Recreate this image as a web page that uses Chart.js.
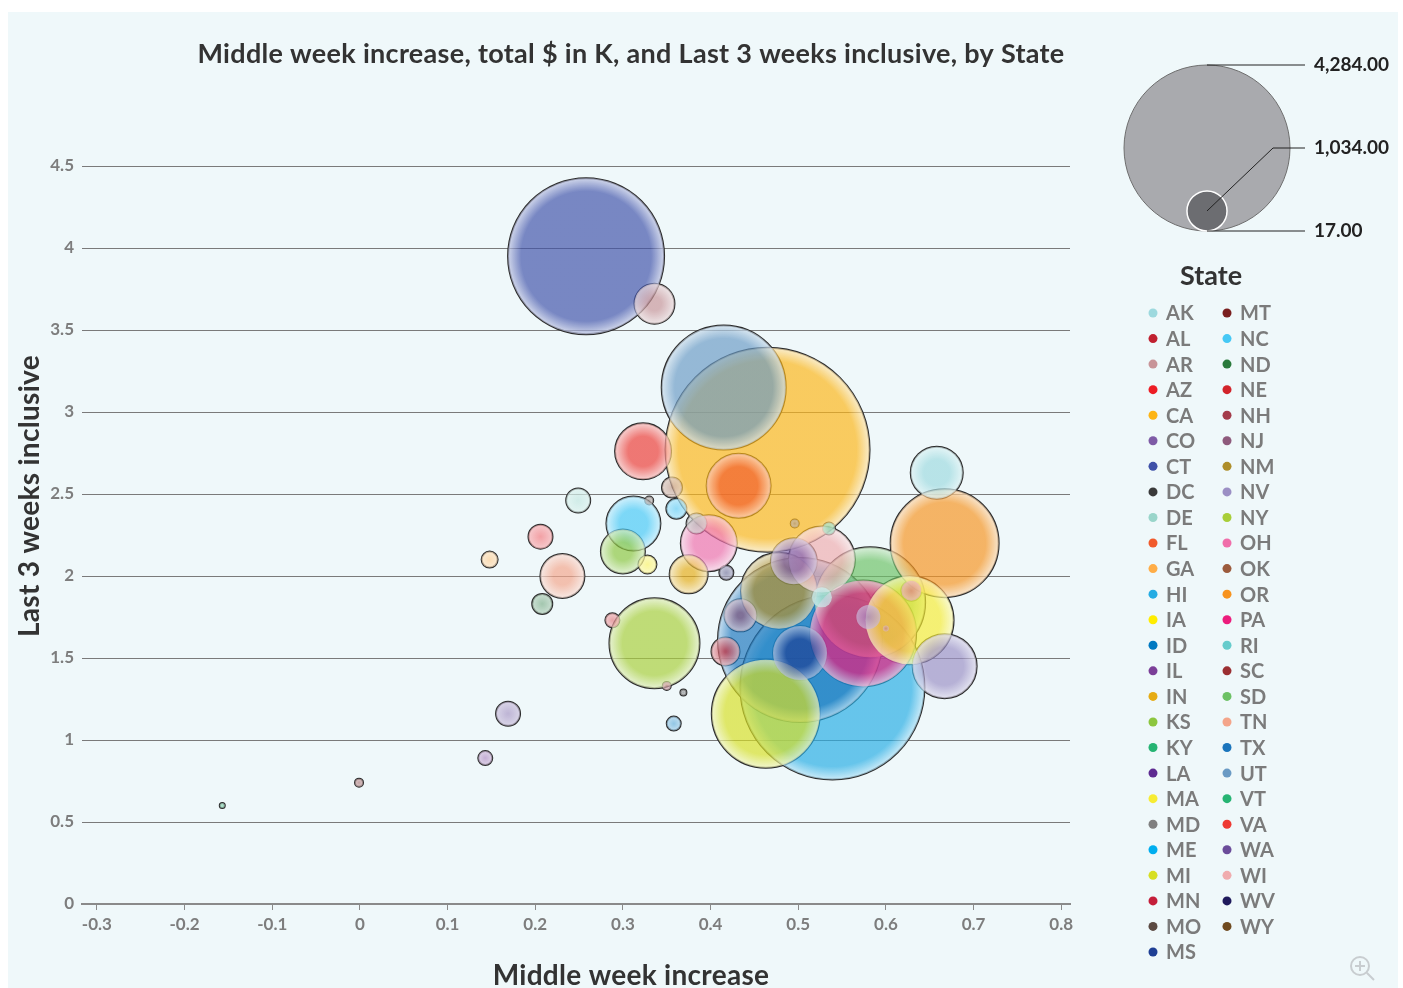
<!DOCTYPE html>
<html>
<head>
<meta charset="utf-8">
<script src="https://cdn.jsdelivr.net/npm/chart.js@4.4.1/dist/chart.umd.min.js"></script>
<style>
  html, body { margin: 0; padding: 0; background: #fff; }
  #wrap { position: relative; width: 1403px; height: 988px; overflow: hidden; }
  #panel { position: absolute; left: 8px; top: 12px; width: 1390px; height: 976px; background: #eff8fa; }
  #chart { position: absolute; left: 0; top: 0; }
</style>
</head>
<body>
<div id="wrap">
  <div id="panel"></div>
  <canvas id="chart" width="1403" height="988"></canvas>
</div>
<script>
// legend states and their colours
const states = ['AK','AL','AR','AZ','CA','CO','CT','DC','DE','FL','GA','HI','IA','ID','IL','IN','KS','KY','LA','MA','MD','ME','MI','MN','MO','MS',
  'MT','NC','ND','NE','NH','NJ','NM','NV','NY','OH','OK','OR','PA','RI','SC','SD','TN','TX','UT','VT','VA','WA','WI','WV','WY'];
const stateColors = ['#9DD9DE','#C0202F','#C89498','#ED1C24','#FDB515','#7E5BA6','#3F51A8','#3A3A3A','#99D5CA','#F15A2B','#FFAD47','#25ACE3','#FFED00','#0079C1','#7B3F98','#E6AC14','#8CC63E','#26B473','#5E2B91','#F7EC33','#808080','#00AEEF','#D7DF23','#C41E3A','#5B4A42','#1E3F94',
  '#7A1F1F','#46C8F5','#2A7A3C','#D2232A','#A33B4A','#8E5A7C','#AE8E2A','#9B8FC4','#A8CE38','#F06EAA','#9C5B3D','#F7931E','#EC1C7C','#66CCCC','#9B2F32','#6CC164','#F4A58A','#1B75BC','#6A9AC4','#26B473','#EE3A33','#6B4C9A','#F0ACAE','#1F1A5C','#6F4A1F'];

// one bubble per state (largest first)
const bubbleStates = ['CA','HI','TX','CT','UT','SD','OR','MI','PA','NY','MA','NM','WI','FL','NV','VA','OH','NC','MS','AK','CO','KS','TN','AR','IN','NJ','AL',
  'DE','AZ','WA','LA','OK','ME','MD','ND','MN','RI','IA','GA','WV','NE','ID','IL','VT','MO','NH','MT','WY','DC','SC','KY'];
const middleWeekIncrease = [0.465,0.539,0.502,0.258,0.415,0.582,0.667,0.463,0.574,0.336,0.627,0.478,0.527,0.432,0.667,0.323,0.398,0.312,0.502,0.658,0.495,0.300,0.231,0.336,0.375,0.434,0.417,
  0.249,0.206,0.169,0.580,0.356,0.361,0.384,0.208,0.629,0.527,0.328,0.148,0.418,0.288,0.358,0.143,0.535,0.330,0.350,-0.001,0.496,0.369,0.600,-0.157];
const last3Weeks = [2.77,1.32,1.61,3.95,3.15,1.84,2.20,1.16,1.65,1.59,1.73,1.91,2.10,2.55,1.45,2.76,2.20,2.32,1.53,2.63,2.09,2.15,2.00,3.66,2.01,1.76,1.54,
  2.46,2.24,1.16,1.75,2.54,2.41,2.32,1.83,1.91,1.87,2.07,2.10,2.02,1.73,1.10,0.89,2.29,2.46,1.33,0.74,2.32,1.29,1.68,0.60];
const totalK = [4284,3864,3444,3276,2604,2310,2268,2268,2226,1890,1848,1596,1386,1344,1344,1176,1176,1134,1134,1092,966,924,924,840,798,672,588,
  504,504,504,504,420,420,420,420,420,420,378,336,294,294,294,294,252,168,168,168,168,126,126,17];

const xTicks = [-0.3,-0.2,-0.1,0,0.1,0.2,0.3,0.4,0.5,0.6,0.7,0.8];
const sizeLegendValues = [4284, 1034, 17];

const MAX_TOTAL = 4284;
const MAX_R = 102;
const FONT = "Lato, 'Open Sans', sans-serif";

function colorOf(st) { return stateColors[states.indexOf(st)]; }
function hexRgb(h) { return [1,3,5].map(i => parseInt(h.slice(i, i + 2), 16)); }
function mixWhite(c, t) { return c.map(v => Math.round(v + (255 - v) * t)); }
function rgba(c, a) { return `rgba(${c[0]},${c[1]},${c[2]},${a})`; }

const bubbles = bubbleStates.map((st, i) => ({
  x: middleWeekIncrease[i],
  y: last3Weeks[i],
  r: Math.max(2.5, MAX_R * totalK[i] / MAX_TOTAL),
  state: st
}));

// radial fill: flat colour with a light rim
function bubbleFill(ctx) {
  if (ctx.type !== 'data' || !ctx.raw) return 'rgba(0,0,0,0)';
  const chart = ctx.chart, d = ctx.raw;
  const c = hexRgb(colorOf(d.state));
  const px = chart.scales.x.getPixelForValue(d.x);
  const py = chart.scales.y.getPixelForValue(d.y);
  if (!isFinite(px) || !isFinite(py)) return rgba(c, 0.68);
  const p = Math.max(0, 1 - 13 / d.r);
  const core = d.r < 14 ? 0.4 : 0;
  const g = chart.ctx.createRadialGradient(px, py, 0, px, py, d.r);
  g.addColorStop(0, rgba(mixWhite(c, core), 0.68));
  g.addColorStop(p, rgba(mixWhite(c, core), 0.68));
  g.addColorStop(1, rgba(mixWhite(c, 0.68), 0.7));
  return g;
}

const decor = {
  id: 'decor',
  afterDraw(chart) {
    const c = chart.ctx;
    c.save();
    // title
    c.fillStyle = '#333';
    c.font = `bold 27px ${FONT}`;
    c.textAlign = 'center';
    c.textBaseline = 'middle';
    c.letterSpacing = '0.3px';
    c.fillText('Middle week increase, total $ in K, and Last 3 weeks inclusive, by State', 631, 54, 874);
    // axis titles
    c.font = `bold 28px ${FONT}`;
    c.fillText('Middle week increase', 631, 976);
    c.save();
    c.translate(30, 496);
    c.rotate(-Math.PI / 2);
    c.fillText('Last 3 weeks inclusive', 0, 0);
    c.restore();
    c.letterSpacing = '0px';

    // size legend
    const k = 83 / sizeLegendValues[0];
    const cx = 1207, bottom = 231;
    const rBig = sizeLegendValues[0] * k, rMid = sizeLegendValues[1] * k;
    c.beginPath();
    c.arc(cx, bottom - rBig, rBig, 0, Math.PI * 2);
    c.fillStyle = '#a9aaae';
    c.fill();
    c.strokeStyle = '#6e6e6e';
    c.lineWidth = 1;
    c.stroke();
    c.beginPath();
    c.arc(cx, bottom - rMid, rMid, 0, Math.PI * 2);
    c.fillStyle = '#6c6d71';
    c.fill();
    c.strokeStyle = '#fff';
    c.lineWidth = 1.5;
    c.stroke();
    c.strokeStyle = '#222';
    c.lineWidth = 1;
    const yTop = bottom - 2 * rBig, yMid = bottom - rBig;
    c.beginPath();
    c.moveTo(cx, yTop); c.lineTo(1305, yTop);
    c.moveTo(cx, bottom - rMid); c.lineTo(1273, yMid); c.lineTo(1305, yMid);
    c.moveTo(cx, bottom); c.lineTo(1305, bottom);
    c.stroke();
    c.fillStyle = '#222';
    c.font = `bold 19px ${FONT}`;
    c.textAlign = 'left';
    const fmt = v => v.toLocaleString('en-US', { minimumFractionDigits: 2, maximumFractionDigits: 2 });
    c.fillText(fmt(sizeLegendValues[0]), 1314, yTop);
    c.fillText(fmt(sizeLegendValues[1]), 1314, yMid);
    c.fillText(fmt(sizeLegendValues[2]), 1314, bottom);

    // state legend
    c.fillStyle = '#333';
    c.font = `bold 27px ${FONT}`;
    c.textAlign = 'center';
    c.fillText('State', 1211, 276);
    c.font = `bold 20px ${FONT}`;
    c.textAlign = 'left';
    states.forEach((st, i) => {
      const col = i < 26 ? 0 : 1;
      const row = i < 26 ? i : i - 26;
      const x = col ? 1227 : 1153;
      const y = 313 + row * 25.56;
      c.beginPath();
      c.arc(x, y, 4.5, 0, Math.PI * 2);
      c.fillStyle = stateColors[i];
      c.fill();
      c.fillStyle = '#7b7b7b';
      c.fillText(st, x + 13, y + 1);
    });

    // zoom icon
    c.strokeStyle = '#c8cdd0';
    c.lineWidth = 2;
    c.beginPath();
    c.arc(1360, 966, 9, 0, Math.PI * 2);
    c.moveTo(1367, 973); c.lineTo(1374, 980);
    c.moveTo(1355, 966); c.lineTo(1365, 966);
    c.moveTo(1360, 961); c.lineTo(1360, 971);
    c.stroke();
    c.restore();
  }
};

new Chart(document.getElementById('chart').getContext('2d'), {
  type: 'bubble',
  data: {
    datasets: [
      {
        label: 'fill',
        data: bubbles,
        order: 0,
        clip: false,
        backgroundColor: bubbleFill,
        borderWidth: 0
      },
      {
        label: 'outline',
        data: bubbles,
        order: 1,
        clip: false,
        backgroundColor: 'rgba(0,0,0,0)',
        borderColor: '#2b2b2b',
        borderWidth: 2
      }
    ]
  },
  options: {
    responsive: false,
    animation: false,
    events: [],
    layout: { autoPadding: false, padding: { left: 0, right: 333, top: 166, bottom: 44 } },
    plugins: {
      legend: { display: false },
      tooltip: { enabled: false },
      title: { display: false }
    },
    scales: {
      x: {
        type: 'linear',
        min: -0.317,
        max: 0.81,
        afterBuildTicks: s => { s.ticks = xTicks.map(v => ({ value: v })); },
        afterFit: s => { s.height = 40; },
        grid: { drawOnChartArea: false, drawTicks: true, tickLength: 6, color: '#8a8a8a' },
        border: { display: true, color: '#8a8a8a', width: 2 },
        ticks: {
          autoSkip: false,
          maxRotation: 0,
          padding: 4,
          color: '#7d7d7d',
          font: { family: FONT, size: 17, weight: 'bold' },
          callback: v => String(Math.round(v * 10) / 10)
        }
      },
      y: {
        type: 'linear',
        min: 0,
        max: 4.5,
        afterFit: s => { s.width = 82; },
        grid: { drawTicks: false, color: '#7a7a7a', lineWidth: 1 },
        border: { display: false },
        ticks: {
          stepSize: 0.5,
          padding: 8,
          color: '#7d7d7d',
          font: { family: FONT, size: 17, weight: 'bold' },
          callback: v => String(v)
        }
      }
    }
  },
  plugins: [decor]
});
</script>
</body>
</html>
